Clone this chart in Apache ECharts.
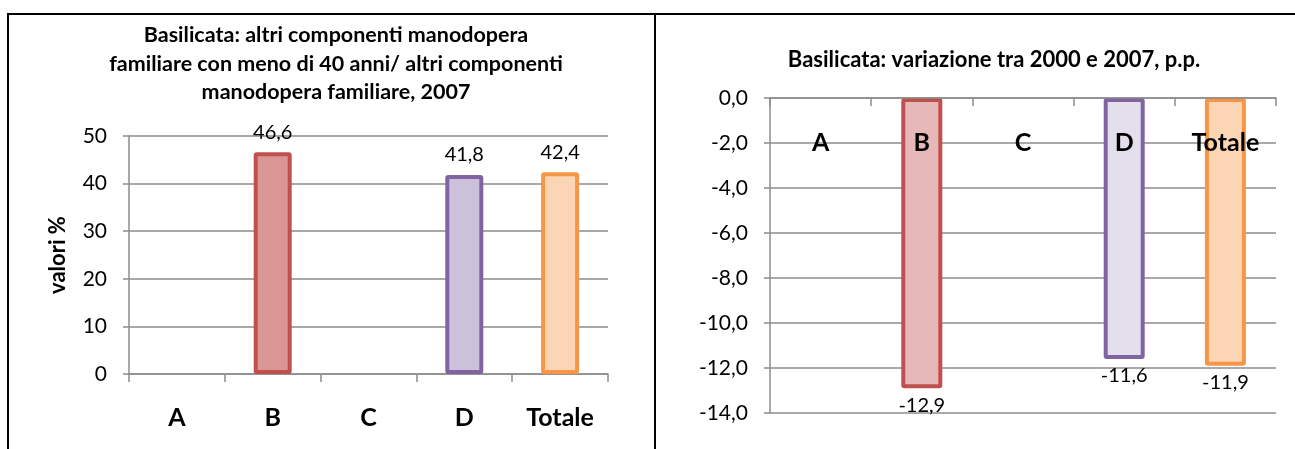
<!DOCTYPE html>
<html>
<head>
<meta charset="utf-8">
<title>Basilicata: manodopera familiare</title>
<script src="https://cdn.jsdelivr.net/npm/echarts@6/dist/echarts.min.js"></script>
<style>
  html, body { margin: 0; padding: 0; background: #ffffff; }
  #chart { width: 1295px; height: 449px; }
</style>
</head>
<body>
<div id="chart"></div>
<script>
// Categories shared by both panels
const categories = ['A', 'B', 'C', 'D', 'Totale'];

// Left panel: under-40 family workers as a share of all other family workers, 2007 (%)
const share2007 = [null, 46.6, null, 41.8, 42.4];

// Right panel: change between 2000 and 2007, percentage points
const change2000to2007 = [null, -12.9, null, -11.6, -11.9];

// Value-axis ranges [min, max, step]
const leftAxisRange = [0, 50, 10];
const rightAxisRange = [-14, 0, 2];

// Per-category bar styling
const borderColors = ['#4F81BD', '#C0504D', '#9BBB59', '#8064A2', '#F79646'];
const leftFills = ['#95B3D7', '#D99694', '#C3D69B', '#CCC1DA', '#FCD5B5'];
const rightFills = ['#B9CDE5', '#E6B9B8', '#D7E4BD', '#E4DFEC', '#FCD5B5'];

const FONT = 'Lato, "Liberation Sans", Arial, sans-serif';
const GRID_COLOR = '#8C8C8C';

const comma = v => v.toFixed(1).replace('.', ',');

function styledData(values, fills) {
  return values.map((v, i) => ({
    value: v,
    itemStyle: { color: fills[i], borderColor: borderColors[i] }
  }));
}

const chart = echarts.init(document.getElementById('chart'), null, { renderer: 'canvas' });

chart.setOption({
  animation: false,
  backgroundColor: '#ffffff',
  textStyle: { fontFamily: FONT },
  title: [
    {
      text: 'Basilicata: altri componenti manodopera\nfamiliare con meno di 40 anni/ altri componenti\nmanodopera familiare, 2007',
      left: 331, top: 16, textAlign: 'center',
      textStyle: { fontFamily: FONT, fontSize: 21.5, fontWeight: 'bold', color: '#000', lineHeight: 28.5 }
    },
    {
      text: 'Basilicata: variazione tra 2000 e 2007, p.p.',
      left: 989, top: 44, textAlign: 'center',
      textStyle: { fontFamily: FONT, fontSize: 22, fontWeight: 'bold', color: '#000' }
    }
  ],
  grid: [
    { left: 129, top: 136, width: 479, height: 238 },
    { left: 770, top: 98, width: 506, height: 315 }
  ],
  xAxis: [
    {
      type: 'category', gridIndex: 0, data: categories,
      axisLine: { lineStyle: { color: GRID_COLOR, width: 1.5 } },
      axisTick: { show: true, length: 8, lineStyle: { color: GRID_COLOR, width: 1.5 } },
      axisLabel: { margin: 31, fontFamily: FONT, fontSize: 25, fontWeight: 'bold', color: '#000' }
    },
    {
      type: 'category', gridIndex: 1, data: categories, position: 'top', z: 10,
      axisLine: { onZero: false, lineStyle: { color: GRID_COLOR, width: 1.5 } },
      axisTick: { show: true, inside: true, length: 8, lineStyle: { color: GRID_COLOR, width: 1.5 } },
      axisLabel: { inside: true, margin: 32, fontFamily: FONT, fontSize: 25, fontWeight: 'bold', color: '#000' }
    }
  ],
  yAxis: [
    {
      type: 'value', gridIndex: 0,
      min: leftAxisRange[0], max: leftAxisRange[1], interval: leftAxisRange[2],
      name: 'valori %', nameLocation: 'middle', nameRotate: 90, nameGap: 60,
      nameTextStyle: { fontFamily: FONT, fontSize: 22, fontWeight: 'bold', color: '#000' },
      axisLine: { show: true, lineStyle: { color: GRID_COLOR, width: 1.5 } },
      axisTick: { show: true, length: 6, lineStyle: { color: GRID_COLOR, width: 1.5 } },
      axisLabel: { margin: 22, fontFamily: FONT, fontSize: 21, color: '#000' },
      splitLine: { lineStyle: { color: GRID_COLOR, width: 1.5 } }
    },
    {
      type: 'value', gridIndex: 1,
      min: rightAxisRange[0], max: rightAxisRange[1], interval: rightAxisRange[2],
      axisLine: { show: true, lineStyle: { color: GRID_COLOR, width: 1.5 } },
      axisTick: { show: true, length: 6, lineStyle: { color: GRID_COLOR, width: 1.5 } },
      axisLabel: { margin: 22, fontFamily: FONT, fontSize: 21, color: '#000', formatter: comma },
      splitLine: { lineStyle: { color: GRID_COLOR, width: 1.5 } }
    }
  ],
  series: [
    {
      type: 'bar', xAxisIndex: 0, yAxisIndex: 0,
      data: styledData(share2007, leftFills),
      barWidth: 38,
      itemStyle: { borderWidth: 4, borderRadius: 1 },
      label: {
        show: true, position: 'top', distance: 10,
        fontFamily: FONT, fontSize: 20, color: '#000', formatter: p => comma(p.value)
      }
    },
    {
      type: 'bar', xAxisIndex: 1, yAxisIndex: 1,
      data: styledData(change2000to2007, rightFills),
      barWidth: 41,
      itemStyle: { borderWidth: 4, borderRadius: 1 },
      label: {
        show: true, position: 'bottom', distance: 7,
        fontFamily: FONT, fontSize: 20, color: '#000', formatter: p => comma(p.value)
      }
    }
  ],
  graphic: [
    // table-cell borders framing the two panels
    { type: 'line', shape: { x1: 8, y1: 14, x2: 1295, y2: 14 }, style: { stroke: '#000', lineWidth: 2 } },
    { type: 'line', shape: { x1: 8, y1: 13, x2: 8, y2: 449 }, style: { stroke: '#000', lineWidth: 2 } },
    { type: 'line', shape: { x1: 655, y1: 13, x2: 655, y2: 449 }, style: { stroke: '#000', lineWidth: 2 } }
  ]
});
</script>
</body>
</html>
